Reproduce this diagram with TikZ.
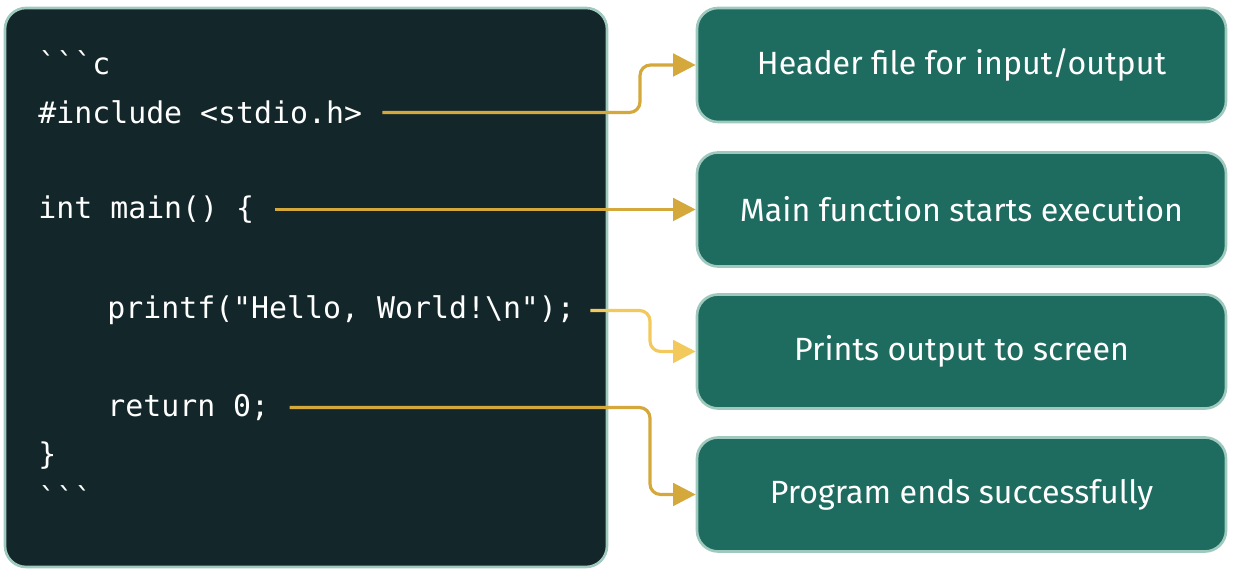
\documentclass[tikz,border=0pt]{standalone}
\usepackage{fontspec}
\setmainfont{Fira Sans}
\setmonofont{DejaVu Sans Mono}
\usetikzlibrary{positioning}
\usetikzlibrary{arrows.meta}
\definecolor{codebg}{HTML}{13262A}
\definecolor{codeline}{HTML}{9FC9BD}
\definecolor{boxbg}{HTML}{1E6B60}
\definecolor{gold}{HTML}{D4A83A}
\definecolor{paleGold}{HTML}{F2C95A}
\tikzset{
	code/.style={anchor=west,inner sep=0pt,text=white,font=\ttfamily\fontsize{17}{20}\selectfont},
	note/.style={draw=codeline,line width=1.5pt,fill=boxbg,rounded corners=12pt,minimum width=10.58cm,minimum height=2.28cm,text=white,font=\fontsize{18.3}{22}\selectfont},
	link/.style={draw=gold,line width=1.8pt,rounded corners=6pt,shorten <=0.4cm,-{Triangle[length=0.45cm,width=0.45cm]}}
}
\begin{document}
\begin{tikzpicture}
	\useasboundingbox (0,0) rectangle (24.68,11.5);
	%% code panel
	\node[draw=codeline,line width=1.5pt,fill=codebg,rounded corners=12pt,minimum width=12.04cm,minimum height=11.18cm] (panel) at (6.12,5.75) {};
	\node[code] (l1) at (0.76,10.25) {\symbol{96}\symbol{96}\symbol{96}c};
	\node[code] (l2) at (0.76,9.25) {\#include <stdio.h>};
	\node[code] (l3) at (0.76,7.31) {int main() \{};
	\node[code] (l4) at (2.14,5.29) {printf("Hello, World!\textbackslash n");};
	\node[code] (l5) at (2.14,3.35) {return 0;};
	\node[code] (l6) at (0.76,2.39) {\}};
	\node[code] (l7) at (0.76,1.55) {\symbol{96}\symbol{96}\symbol{96}};
	%% notes
	\node[note] (b1) at (19.23,10.2) {Header file for input/output};
	\node[note] (b2) at (19.23,7.31) {Main function starts execution};
	\node[note] (b3) at (19.23,4.47) {Prints output to screen};
	\node[note] (b4) at (19.23,1.61) {Program ends successfully};
	% connectors
	\draw[link] (l2.east) -| (12.8,10.2) -- (b1.west);
	\draw[link] (l3.east) -- (b2.west);
	\draw[link,draw=paleGold,shorten <=0.3cm] (l4.east) -| (13.0,4.47) -- (b3.west);
	\draw[link] (l5.east) -| (13.0,1.61) -- (b4.west);
\end{tikzpicture}
\end{document}
